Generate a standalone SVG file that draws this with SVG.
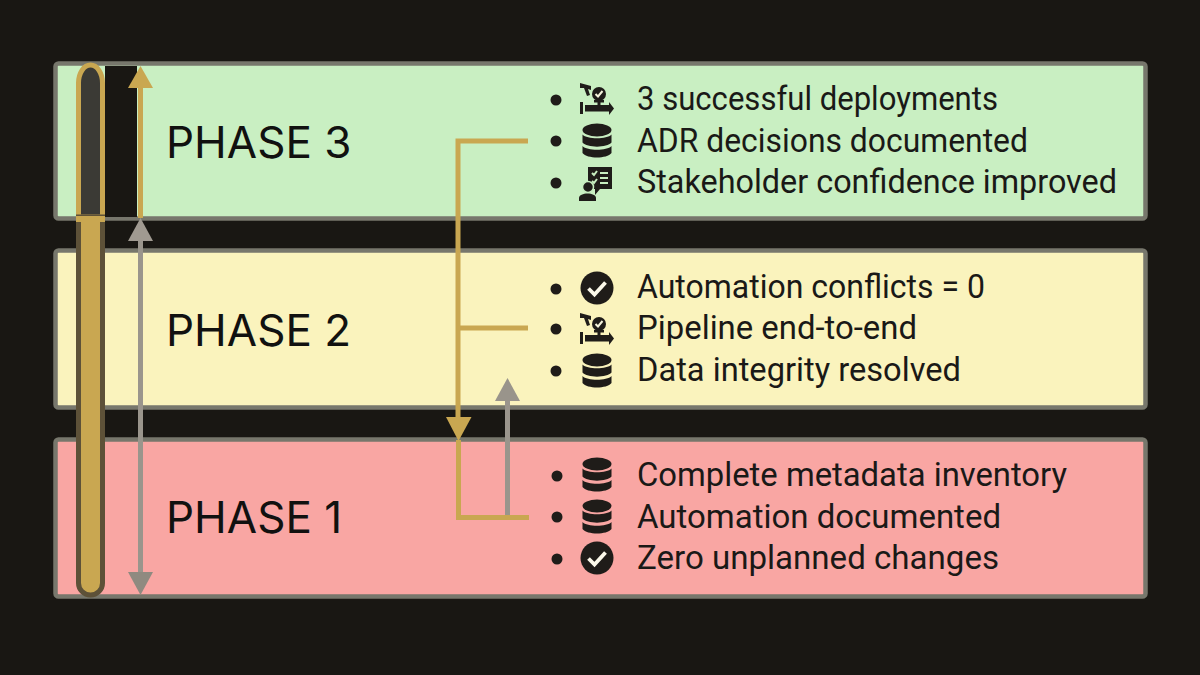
<svg xmlns="http://www.w3.org/2000/svg" width="1200" height="675" viewBox="0 0 1200 675">
<style>
.panel{stroke:#77776c;stroke-width:4.5}
.ph{font:44px Inter,"Liberation Sans",sans-serif;fill:#111110}
.it{font:32.5px Roboto,"Liberation Sans",sans-serif;fill:#1a1917}
.gold{fill:none;stroke:#c9a751;stroke-width:5}
.grey{fill:none;stroke:#9a958c;stroke-width:5}
.ink{fill:#1f1c19}
</style>
<defs>
<g id="db"><ellipse cx="0" cy="-11" rx="14.500" ry="6.500" class="ink"/><path class="ink" d="M-14.500-6.500C-10-1.500 10-1.500 14.500-6.500V1.500C10 7 -10 7 -14.500 1.500Z"/><path class="ink" d="M-14.500 5C-10 10 10 10 14.500 5V12C10 18 -10 18 -14.500 12Z"/></g>
<g id="chk"><circle r="16.500" class="ink"/><path d="M-8.500 0.500L-2.500 6.500L8.500-5.500" fill="none" stroke="#fbf8ea" stroke-width="3.800"/></g>
<g id="pipe"><path class="ink" d="M-17-16L-6-13L-6-9L-9-10L-7-4L-10-3L-13-11L-17-11Z"/><circle cx="2" cy="-5" r="7" class="ink"/><path d="M-1.500-5L1-2.500L5.500-8" fill="none" stroke="#f5f3dc" stroke-width="2"/><rect x="0.500" y="1" width="3" height="5" class="ink"/><rect x="-3" y="1" width="10" height="2.500" class="ink"/><rect x="-12" y="6" width="24" height="6.500" class="ink"/><rect x="-17" y="3" width="3" height="12" class="ink"/><path class="ink" d="M12 3L17 9.500L12 16Z"/></g>
<g id="stake"><path class="ink" d="M-9-17H15V5H3L-2 11V5H-9Z"/><path d="M-5-11L-3-9L0-13M-5-3L-3-1L0-5M3-11H11M3-6H11M3-1H11" fill="none" stroke="#c8eec0" stroke-width="2"/><circle cx="-9" cy="3" r="5.500" class="ink" stroke="#c8eec0" stroke-width="1.500"/><path class="ink" d="M-18 17V14C-18 8 -1 8 -1 14V17Z"/></g>
</defs>
<rect width="1200" height="675" fill="#191713"/>
<g id="phase3"><rect class="panel" x="55.500" y="63.500" width="1090" height="155" rx="3" fill="#c9efc2"/><rect x="105" y="66" width="32" height="151" fill="#191713"/><text class="ph" x="166" y="158">PHASE 3</text>
<g fill="#1f1c19"><circle cx="556" cy="100" r="5.500"/><circle cx="556" cy="141" r="5.500"/><circle cx="556" cy="183" r="5.500"/></g>
<use href="#pipe" x="597" y="99"/><use href="#db" x="597" y="141"/><use href="#stake" x="597" y="184"/>
<text class="it" x="637" y="110" textLength="361" lengthAdjust="spacingAndGlyphs">3 successful deployments</text><text class="it" x="637" y="152" textLength="391" lengthAdjust="spacingAndGlyphs">ADR decisions documented</text><text class="it" x="637" y="193" textLength="480" lengthAdjust="spacingAndGlyphs">Stakeholder confidence improved</text></g>
<g id="phase2"><rect class="panel" x="55.500" y="250.500" width="1090" height="157" rx="3" fill="#faf3bd"/><text class="ph" x="166" y="346">PHASE 2</text>
<g fill="#1f1c19"><circle cx="556" cy="289" r="5.500"/><circle cx="556" cy="329" r="5.500"/><circle cx="556" cy="371" r="5.500"/></g>
<use href="#chk" x="597" y="288"/><use href="#pipe" x="597" y="329"/><use href="#db" x="597" y="371"/>
<text class="it" x="637" y="298" textLength="348" lengthAdjust="spacingAndGlyphs">Automation conflicts = 0</text><text class="it" x="637" y="339" textLength="280" lengthAdjust="spacingAndGlyphs">Pipeline end-to-end</text><text class="it" x="637" y="381" textLength="324" lengthAdjust="spacingAndGlyphs">Data integrity resolved</text></g>
<g id="phase1"><rect class="panel" x="55.500" y="439.500" width="1090" height="157" rx="3" fill="#f9a6a3"/><text class="ph" x="166" y="533">PHASE 1</text>
<g fill="#1f1c19"><circle cx="557" cy="476" r="5.500"/><circle cx="557" cy="517" r="5.500"/><circle cx="557" cy="559" r="5.500"/></g>
<use href="#db" x="597" y="475"/><use href="#db" x="597" y="517"/><use href="#chk" x="597" y="558"/>
<text class="it" x="637" y="486" textLength="430" lengthAdjust="spacingAndGlyphs">Complete metadata inventory</text><text class="it" x="637" y="528" textLength="364" lengthAdjust="spacingAndGlyphs">Automation documented</text><text class="it" x="637" y="569" textLength="362" lengthAdjust="spacingAndGlyphs">Zero unplanned changes</text></g>
<g id="connectors">
<g id="timeline"><path d="M78.500 217V83a12 18 0 0 1 24 0V217Z" fill="#3b3a35" stroke="#c9a751" stroke-width="5"/><path d="M78.500 217V583a12 12 0 0 0 24 0V217Z" fill="#c9a751" stroke="#5d5138" stroke-width="5"/><rect x="76" y="216" width="29" height="6" fill="#c9a751"/></g>
<path class="gold" d="M140.500 218V85"/><path d="M140.500 66L153 88H128Z" fill="#c9a751"/>
<path class="grey" d="M140.500 236V577"/><path d="M140.500 218L153 241H128Z" fill="#a09a91"/><path d="M140.500 595L128 572H153Z" fill="#8f8a80"/>
<path class="gold" d="M528 141H458V420"/><path class="gold" d="M458 328H528"/><path d="M446 417H471.500L458.500 441Z" fill="#c9a751"/>
<path class="gold" d="M458.500 440V517.500H529"/>
<path class="grey" d="M507.500 515V400"/><path d="M507.500 378L520 401H495Z" fill="#99948b"/>
</g>
</svg>
